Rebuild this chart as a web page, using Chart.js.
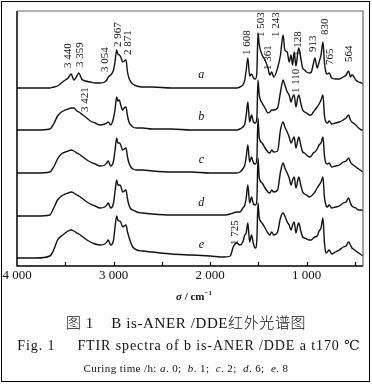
<!DOCTYPE html>
<html>
<head>
<meta charset="utf-8">
<script src="https://cdn.jsdelivr.net/npm/chart.js@4"></script>
<style>
  html, body { margin: 0; padding: 0; background: #fefefe; }
  #wrap { position: relative; width: 372px; height: 384px; overflow: hidden; }
  #box { position: absolute; left: 1px; top: 1px; width: 367px; height: 379px; border: 1.5px solid #000; }
  canvas { position: absolute; left: 0; top: 0; }
  .cap { position: absolute; left: 0; width: 372px; text-align: center; color: #111; white-space: nowrap;
         font-family: "Liberation Serif", "DejaVu Serif", serif; }
  .cjk { font-family: "Liberation Serif", "Noto Sans CJK SC", serif; }
  .cjk span { font-family: "Noto Sans CJK SC", sans-serif; font-weight: 300; }
</style>
</head>
<body>
<div id="wrap">
  <div id="box"></div>
  <canvas id="spectra" width="372" height="286"></canvas>
  <div class="cap" style="top:285px;font-size:11px;font-weight:bold;line-height:16px;left:8px"><i>σ</i> / cm<sup style="font-size:7px">−1</sup></div>
  <div class="cap cjk" style="top:313px;font-size:15px;line-height:18px;letter-spacing:0.6px"><span>图</span> 1&nbsp;&nbsp;&nbsp; B is-ANER /DDE<span>红外光谱图</span></div>
  <div class="cap" style="top:337px;font-size:14px;line-height:17px;letter-spacing:0.9px;left:3px">Fig. 1&nbsp;&nbsp;&nbsp;&nbsp; FTIR spectra of b is-ANER /DDE a t170 ℃</div>
  <div class="cap" style="top:361px;font-size:11px;line-height:14px;letter-spacing:0.4px">Curing time /h: <i>a</i>. 0;&nbsp; <i>b</i>. 1;&nbsp; <i>c</i>. 2;&nbsp; <i>d</i>. 6;&nbsp; <i>e</i>. 8</div>
</div>
<script>
// wavenumbers (cm-1) shared by all five spectra
const wavenumbers = [
  4000, 3800, 3660, 3620, 3580, 3540, 3500, 3470, 3440, 3410, 3380, 3359, 3330, 3290, 3240, 3190, 3140, 3090, 3070, 3054, 3030, 3000,
  2985, 2967, 2955, 2940, 2925, 2905, 2890, 2871, 2855, 2840, 2820, 2800, 2760, 2700, 2600, 2400, 2200, 2000,
  1850, 1790, 1760, 1725, 1690, 1660, 1640, 1625, 1608, 1590, 1570, 1550, 1530, 1515, 1503,
  1490, 1460, 1430, 1400, 1380, 1361, 1340, 1300, 1270, 1243, 1225, 1200, 1180, 1160, 1145, 1128, 1110, 1090, 1080, 1060,
  1040, 1020, 1000, 970, 950, 930, 913, 890, 870, 850, 830, 815, 800, 785, 765, 740, 700, 660, 620, 590, 564, 545, 530, 515, 490, 460, 430, 415
];

// absorbance above each curve's own baseline (arbitrary units)
const traceA = [
  0, 0, 0, 1, 2, 5, 8, 10, 14, 8, 12, 15, 9, 7, 6, 5, 5, 6, 8, 11, 13, 18,
  26, 38, 34, 33, 31, 26, 27, 28, 16, 10, 6, 4, 2, 1, 1, 0, 0, 0,
  0, 0, 0, 0, 1, 3, 8, 18, 30, 12, 14, 10, 9, 15, 55,
  43, 33, 28, 20, 13, 16, 11, 20, 33, 53, 38, 36, 26, 33, 23, 36, 22, 36, 40, 30,
  20, 18, 16, 15, 16, 24, 30, 20, 26, 33, 46, 26, 16, 14, 15, 10, 9, 9, 11, 13, 17, 11, 13, 12, 8, 6, 5, 4
];
const traceB = [
  0, 0, 1, 6, 14, 18, 20, 21, 22, 22, 19, 18, 16, 13, 9, 7, 5, 6, 7, 8, 5, 12,
  20, 33, 29, 30, 25, 20, 22, 23, 14, 8, 5, 3, 2, 2, 1, 1, 0, 0,
  0, 0, 0, 0, 1, 3, 6, 15, 28, 8, 15, 8, 7, 12, 50,
  35, 27, 22, 17, 18, 20, 20, 22, 38, 50, 45, 38, 35, 28, 33, 35, 23, 33, 35, 27,
  20, 18, 17, 15, 15, 18, 20, 23, 26, 30, 35, 15, 8, 7, 9, 6, 7, 8, 10, 12, 15, 10, 8, 7, 5, 2, 0, 0
];
const traceC = [
  0, 0, 1, 6, 14, 19, 21, 22, 23, 22, 20, 19, 17, 14, 11, 9, 7, 8, 10, 12, 7, 12,
  22, 35, 30, 30, 28, 23, 24, 25, 16, 10, 6, 4, 3, 3, 2, 1, 1, 0,
  0, 0, 0, 0, 1, 4, 8, 16, 28, 11, 16, 10, 9, 14, 55,
  35, 30, 25, 21, 20, 23, 21, 22, 43, 51, 46, 41, 36, 30, 33, 36, 25, 33, 36, 28,
  21, 20, 18, 16, 17, 20, 21, 24, 28, 30, 36, 18, 10, 9, 10, 6, 7, 8, 11, 12, 15, 11, 9, 8, 6, 4, 2, 1
];
const traceD = [
  0, 0, 1, 8, 16, 20, 22, 23, 24, 23, 21, 20, 18, 15, 12, 10, 8, 9, 11, 13, 8, 13,
  24, 36, 31, 31, 30, 24, 25, 26, 17, 11, 7, 6, 4, 3, 2, 1, 1, 1,
  1, 2, 3, 4, 4, 8, 11, 18, 31, 13, 19, 12, 11, 15, 58,
  38, 33, 28, 24, 23, 26, 24, 26, 44, 53, 48, 43, 38, 31, 36, 39, 28, 36, 39, 31,
  24, 22, 21, 19, 20, 22, 24, 28, 31, 34, 39, 19, 11, 9, 11, 8, 9, 10, 13, 14, 18, 13, 10, 9, 8, 6, 6, 5
];
const traceE = [
  0, 0, 2, 8, 18, 22, 25, 27, 28, 27, 25, 24, 22, 19, 16, 14, 13, 14, 16, 18, 13, 18,
  30, 42, 38, 37, 36, 31, 32, 33, 26, 21, 15, 11, 8, 7, 6, 4, 3, 2,
  1, 2, 11, 15, 13, 16, 23, 25, 35, 16, 23, 14, 10, 18, 55,
  40, 35, 30, 25, 23, 26, 23, 26, 40, 45, 42, 36, 33, 28, 33, 36, 25, 33, 35, 27,
  21, 20, 19, 18, 18, 20, 21, 22, 27, 30, 40, 16, 5, 6, 8, 4, 6, 8, 11, 12, 16, 13, 10, 9, 7, 5, 3, 2
];

const curveNames = ['a', 'b', 'c', 'd', 'e'];
const curveOffsets = [178, 136, 93, 50, 8];   // vertical shift of each curve
const tickValues = [4000, 3000, 2000, 1000];
const peakLabels = ['3 440', '3 359', '3 054', '2 967', '2 871', '3 421', '1 608', '1 503', '1 361',
                    '1 243', '1 128', '1 110', '913', '830', '765', '564', '1 725'];

const series = [traceA, traceB, traceC, traceD, traceE];

// where each peak label sits: x shift from its band, y of the text start
const labelPlace = {
  '3 440': [-3, 68], '3 359': [1, 67], '3 054': [-3, 72], '2 967': [1, 47], '2 871': [2, 55],
  '3 421': [12, 112], '1 608': [-1, 55], '1 503': [3, 37], '1 361': [-4, 70], '1 243': [-7, 37],
  '1 128': [4, 56], '1 110': [0, 93], '913': [-2, 52], '830': [2, 35], '765': [1, 65],
  '564': [0, 62], '1 725': [-1, 245]
};

function spaced(v) {
  return String(v).replace(/\B(?=(\d{3})+(?!\d))/g, ' ');
}

const decorations = {
  id: 'decorations',
  afterDraw(chart) {
    const c = chart.ctx, area = chart.chartArea;
    const xs = chart.scales.x, ys = chart.scales.y;
    c.save();
    // frame
    c.lineWidth = 1.5;
    c.strokeStyle = '#000';
    c.beginPath();
    c.moveTo(area.left, area.top); c.lineTo(area.left, area.bottom); c.lineTo(area.right, area.bottom);
    c.stroke();
    c.strokeStyle = '#666';
    c.lineWidth = 1.2;
    c.beginPath();
    c.moveTo(area.left, area.top); c.lineTo(area.right, area.top); c.lineTo(area.right, area.bottom);
    c.stroke();
    // inward ticks every 500
    c.strokeStyle = '#000';
    c.lineWidth = 1.2;
    for (let v = 3500; v >= 500; v -= 500) {
      const px = Math.round(xs.getPixelForValue(v)) + 0.5;
      c.beginPath(); c.moveTo(px, area.bottom); c.lineTo(px, area.bottom - 4); c.stroke();
    }
    // curve letters
    c.fillStyle = '#111';
    c.font = 'italic 12px "Liberation Serif"';
    c.textAlign = 'center';
    c.textBaseline = 'middle';
    curveNames.forEach((n, i) => {
      c.fillText(n, xs.getPixelForValue(2090), ys.getPixelForValue(curveOffsets[i] + 13));
    });
    // peak labels, vertical
    c.font = '11px "Liberation Serif"';
    c.textAlign = 'left';
    peakLabels.forEach(t => {
      const band = Number(t.replace(/\s/g, ''));
      const p = labelPlace[t];
      c.save();
      c.translate(xs.getPixelForValue(band) + p[0], p[1]);
      c.rotate(-Math.PI / 2);
      c.fillText(t, 0, 0);
      c.restore();
    });
    c.restore();
  }
};

const ctx = document.getElementById('spectra').getContext('2d');
new Chart(ctx, {
  type: 'line',
  data: {
    datasets: series.map((s, k) => ({
      label: curveNames[k],
      data: wavenumbers.map((w, i) => ({ x: w, y: curveOffsets[k] + s[i] })),
      borderColor: '#111',
      borderWidth: 1.4,
      pointRadius: 0,
      fill: false,
      cubicInterpolationMode: 'monotone'
    }))
  },
  plugins: [decorations],
  options: {
    responsive: false,
    animation: false,
    events: [],
    layout: { padding: { left: 17, right: 9, top: 11, bottom: 0 } },
    plugins: {
      legend: { display: false },
      tooltip: { enabled: false }
    },
    scales: {
      x: {
        type: 'linear',
        reverse: true,
        min: 415,
        max: 4000,
        afterBuildTicks: function(scale) {
          scale.ticks = tickValues.map(v => ({ value: v }));
        },
        afterFit: function(scale) { scale.height = 20; },
        grid: { display: false, drawTicks: false },
        border: { display: false },
        ticks: {
          autoSkip: false,
          maxRotation: 0,
          padding: 2,
          color: '#111',
          font: { family: '"Liberation Serif"', size: 13 },
          callback: function(v) { return spaced(v); }
        }
      },
      y: { display: false, min: 0, max: 255 }
    }
  }
});
</script>
</body>
</html>
